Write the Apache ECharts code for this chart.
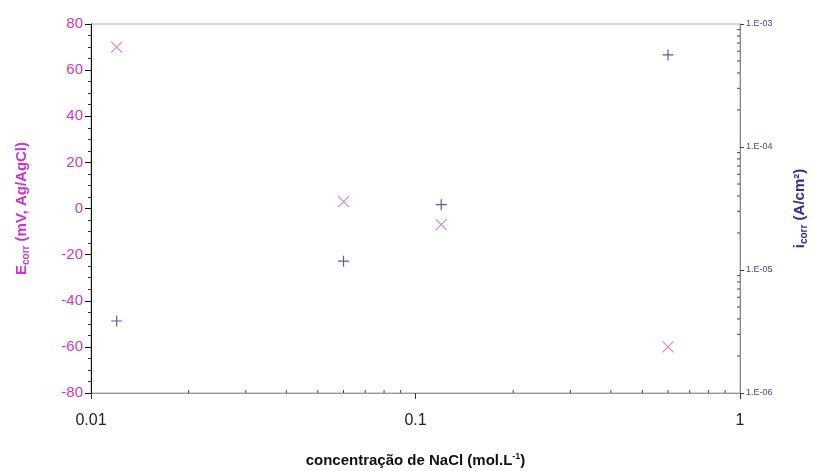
<!DOCTYPE html>
<html>
<head>
<meta charset="utf-8">
<script src="https://cdn.jsdelivr.net/npm/echarts@6/dist/echarts.min.js"></script>
<style>
  html, body { margin: 0; padding: 0; background: #fff; }
  #chart { width: 814px; height: 471px; }
</style>
</head>
<body>
<div id="chart"></div>
<script>
// concentração NaCl (mol/L)
const conc = [0.012, 0.06, 0.12, 0.6]
// Ecorr (mV vs Ag/AgCl)
const ecorr = [70, 3, -7, -60]
// icorr (A/cm2)
const icorr = [3.85e-6, 1.18e-5, 3.4e-5, 5.6e-4]

const xMinorTicks = [0.02, 0.03, 0.04, 0.05, 0.06, 0.07, 0.08, 0.09, 0.2, 0.3, 0.4, 0.5, 0.6, 0.7, 0.8, 0.9]
const yMinorTicks = [2e-6, 3e-6, 4e-6, 5e-6, 6e-6, 7e-6, 8e-6, 9e-6,
  2e-5, 3e-5, 4e-5, 5e-5, 6e-5, 7e-5, 8e-5, 9e-5,
  2e-4, 3e-4, 4e-4, 5e-4, 6e-4, 7e-4, 8e-4, 9e-4]

const font = '"Liberation Sans", Arial, sans-serif'
const crossPath = 'path://M0,0L10,10M10,0L0,10'
const plusPath = 'path://M5,0L5,10M0,5L10,5'

const chart = echarts.init(document.getElementById('chart'))

chart.setOption({
  animation: false,
  textStyle: { fontFamily: font },
  grid: {
    left: 91, right: 74, top: 24, bottom: 78,
    outerBoundsMode: 'none',
    containLabel: false,
    show: true, borderColor: '#aaa', borderWidth: 1
  },
  xAxis: {
    type: 'log',
    logBase: 10,
    min: 0.01,
    max: 1,
    name: 'concentração de NaCl (mol.L{sup|-1})',
    nameLocation: 'middle',
    nameGap: 59,
    nameTextStyle: {
      fontSize: 15, fontWeight: 'bold', color: '#111', fontFamily: font,
      rich: { sup: { fontSize: 9, fontWeight: 'bold', color: '#111', verticalAlign: 'top', padding: [0, 0, 8, 0] } }
    },
    axisLine: { onZero: false, lineStyle: { color: '#999' } },
    axisTick: { length: 6, lineStyle: { color: '#333' } },
    splitLine: { show: false },
    axisLabel: { fontSize: 16, color: '#222', margin: 20 }
  },
  yAxis: [{
    type: 'value',
    min: -80,
    max: 80,
    interval: 20,
    position: 'left',
    name: 'E{sub|corr} (mV, Ag/AgCl)',
    nameLocation: 'middle',
    nameRotate: 90,
    nameGap: 60,
    nameTextStyle: {
      fontSize: 15, fontWeight: 'bold', color: '#cc33cc', fontFamily: font,
      rich: { sub: { fontSize: 10, fontWeight: 'bold', color: '#cc33cc', padding: [8, 0, 0, 0] } }
    },
    axisLine: { show: true, onZero: false, lineStyle: { color: '#111' } },
    axisTick: { length: 6, lineStyle: { color: '#111' } },
    minorTick: { show: true, splitNumber: 4, length: 3, lineStyle: { color: '#333' } },
    splitLine: { show: false },
    axisLabel: { fontSize: 15, color: '#cc33cc', margin: 8 }
  }, {
    type: 'log',
    logBase: 10,
    min: 1e-6,
    max: 1e-3,
    position: 'right',
    name: 'i{sub|corr} (A/cm²)',
    nameLocation: 'middle',
    nameRotate: 90,
    nameGap: 51,
    nameTextStyle: {
      fontSize: 15, fontWeight: 'bold', color: '#2a2aa8', fontFamily: font,
      rich: { sub: { fontSize: 10, fontWeight: 'bold', color: '#2a2aa8', padding: [8, 0, 0, 0] } }
    },
    axisLine: { show: true, onZero: false, lineStyle: { color: '#888' } },
    axisTick: { length: 4, lineStyle: { color: '#444' } },
    splitLine: { show: false },
    axisLabel: {
      fontSize: 9, color: '#4444aa', margin: 6,
      formatter: v => '1.E-' + String(-Math.round(Math.log10(v))).padStart(2, '0')
    }
  }],
  series: [{
    name: 'Ecorr',
    type: 'scatter',
    yAxisIndex: 0,
    data: conc.map((c, i) => [c, ecorr[i]]),
    symbol: crossPath,
    symbolSize: 11,
    itemStyle: { color: 'transparent', borderColor: '#cc66cc', borderWidth: 1.2 }
  }, {
    name: 'icorr',
    type: 'scatter',
    yAxisIndex: 1,
    data: conc.map((c, i) => [c, icorr[i]]),
    symbol: plusPath,
    symbolSize: 11,
    itemStyle: { color: 'transparent', borderColor: '#333388', borderWidth: 1.2 }
  }, {
    // minor ticks on the log x axis
    type: 'custom',
    yAxisIndex: 0,
    silent: true,
    clip: false,
    data: xMinorTicks.map(v => [v, -80]),
    renderItem(params, api) {
      const p = api.coord([api.value(0), api.value(1)])
      return { type: 'line', shape: { x1: p[0], y1: p[1], x2: p[0], y2: p[1] - 3 }, style: { stroke: '#444', lineWidth: 1 } }
    }
  }, {
    // minor ticks on the log right axis
    type: 'custom',
    yAxisIndex: 1,
    silent: true,
    clip: false,
    data: yMinorTicks.map(v => [1, v]),
    renderItem(params, api) {
      const p = api.coord([api.value(0), api.value(1)])
      return { type: 'line', shape: { x1: p[0], y1: p[1], x2: p[0] - 3, y2: p[1] }, style: { stroke: '#444', lineWidth: 1 } }
    }
  }]
})
</script>
</body>
</html>
